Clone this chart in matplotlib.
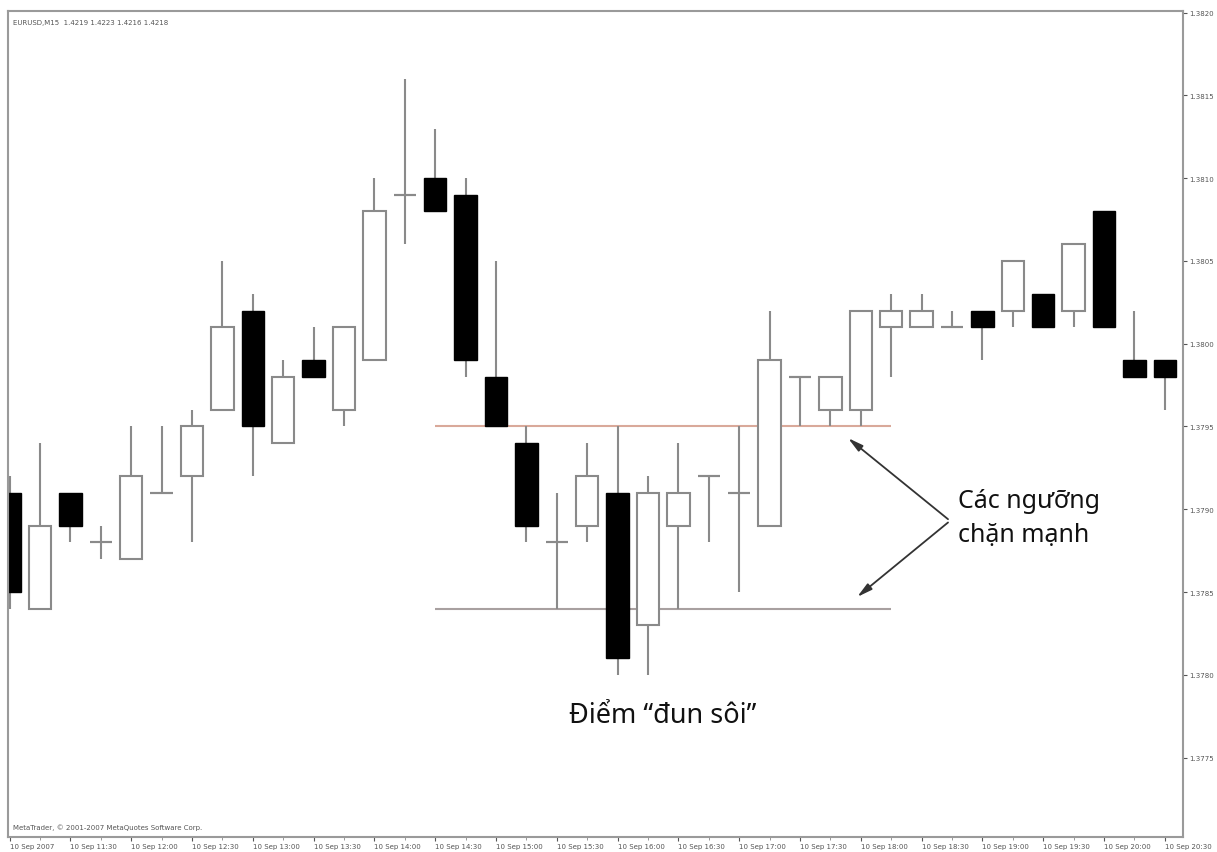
import numpy as np
import matplotlib
matplotlib.use("Agg")
import matplotlib.pyplot as plt

# EURUSD M15, 10 Sep 2007 (open, high, low, close)
opens = [1.3791, 1.3784, 1.3791, 1.3788, 1.3787, 1.3791, 1.3792, 1.3796, 1.3802, 1.3794,
         1.3799, 1.3796, 1.3799, 1.3809, 1.3810, 1.3809, 1.3798, 1.3794, 1.3788, 1.3789,
         1.3791, 1.3783, 1.3789, 1.3792, 1.3791, 1.3789, 1.3798, 1.3796, 1.3796, 1.3801,
         1.3801, 1.3801, 1.3802, 1.3802, 1.3803, 1.3802, 1.3808, 1.3799, 1.3799]
highs = [1.3792, 1.3794, 1.3791, 1.3789, 1.3795, 1.3795, 1.3796, 1.3805, 1.3803, 1.3799,
         1.3801, 1.3801, 1.3810, 1.3816, 1.3813, 1.3810, 1.3805, 1.3795, 1.3791, 1.3794,
         1.3795, 1.3792, 1.3794, 1.3792, 1.3795, 1.3802, 1.3798, 1.3798, 1.3802, 1.3803,
         1.3803, 1.3802, 1.3802, 1.3805, 1.3803, 1.3806, 1.3808, 1.3802, 1.3799]
lows = [1.3784, 1.3784, 1.3788, 1.3787, 1.3787, 1.3791, 1.3788, 1.3796, 1.3792, 1.3794,
        1.3798, 1.3795, 1.3799, 1.3806, 1.3808, 1.3798, 1.3795, 1.3788, 1.3784, 1.3788,
        1.3780, 1.3780, 1.3784, 1.3788, 1.3785, 1.3789, 1.3795, 1.3795, 1.3795, 1.3798,
        1.3801, 1.3801, 1.3799, 1.3801, 1.3801, 1.3801, 1.3801, 1.3798, 1.3796]
closes = [1.3785, 1.3789, 1.3789, 1.3788, 1.3792, 1.3791, 1.3795, 1.3801, 1.3795, 1.3798,
          1.3798, 1.3801, 1.3808, 1.3809, 1.3808, 1.3799, 1.3795, 1.3789, 1.3788, 1.3792,
          1.3781, 1.3791, 1.3791, 1.3792, 1.3791, 1.3799, 1.3798, 1.3798, 1.3802, 1.3802,
          1.3802, 1.3801, 1.3801, 1.3805, 1.3801, 1.3806, 1.3801, 1.3798, 1.3798]

time_labels = ["10 Sep 2007", "10 Sep 11:30", "10 Sep 12:00", "10 Sep 12:30", "10 Sep 13:00",
               "10 Sep 13:30", "10 Sep 14:00", "10 Sep 14:30", "10 Sep 15:00", "10 Sep 15:30",
               "10 Sep 16:00", "10 Sep 16:30", "10 Sep 17:00", "10 Sep 17:30", "10 Sep 18:00",
               "10 Sep 18:30", "10 Sep 19:00", "10 Sep 19:30", "10 Sep 20:00", "10 Sep 20:30"]
price_ticks = [1.3775, 1.3780, 1.3785, 1.3790, 1.3795, 1.3800, 1.3805, 1.3810, 1.3815, 1.3820]

resistance = 1.3795
support = 1.3784

o = np.array(opens)
h = np.array(highs)
l = np.array(lows)
c = np.array(closes)
x = np.arange(len(o))

edge = "#8a8a8a"
fig = plt.figure(figsize=(12.17, 8.53), dpi=100)
ax = fig.add_axes([8 / 1217, 15 / 853, 1175 / 1217, 826 / 853])

ax.vlines(x, l, h, color=edge, lw=1.5, zorder=1)
up = c >= o
body_w = 0.74
ax.bar(x[up], (c - o)[up], bottom=o[up], width=body_w, color="white",
       edgecolor=edge, linewidth=1.5, zorder=2)
ax.bar(x[~up], (o - c)[~up], bottom=c[~up], width=body_w, color="black",
       edgecolor="black", linewidth=1.0, zorder=2)
flat = c == o
ax.hlines(c[flat], x[flat] - body_w / 2, x[flat] + body_w / 2, color=edge, lw=1.5, zorder=3)

# levels
ax.hlines(resistance, 14.0, 29.0, color="#d9a99a", lw=1.5, zorder=0)
ax.hlines(support, 14.0, 29.0, color="#a8a0a0", lw=1.5, zorder=0)

ax.set_xlim(-0.053, 38.6)
ax.set_ylim(1.37702, 1.38201)

ax.yaxis.tick_right()
ax.set_yticks(price_ticks)
ax.set_yticklabels([f"{p:.4f}" for p in price_ticks])
ax.set_xticks(x[::2])
ax.set_xticklabels(time_labels, ha="left")
ax.set_xticks(x, minor=True)
ax.tick_params(axis="both", labelsize=5, colors="#555555", length=3, width=0.8, pad=1.5)
ax.tick_params(axis="x", which="minor", length=2, color="#888888")
for s in ax.spines.values():
    s.set_color("#9a9a9a")
    s.set_linewidth(1.5)

ax.text(0.004, 0.99, "EURUSD,M15  1.4219 1.4223 1.4216 1.4218", transform=ax.transAxes,
        fontsize=5, color="#555555", va="top", ha="left")
ax.text(0.004, 0.008, "MetaTrader, \u00a9 2001-2007 MetaQuotes Software Corp.", transform=ax.transAxes,
        fontsize=5, color="#555555", va="bottom", ha="left")

font = ["Noto Sans", "DejaVu Sans"]
ax.text(31.2, 1.37895, "Các ngưỡng\nchặn mạnh", fontsize=18, family=font,
        ha="left", va="center", linespacing=1.45, color="#111111")
ax.text(21.5, 1.37776, "Điểm \u201cđun sôi\u201d", fontsize=19.5, family=font,
        ha="center", va="center", color="#111111")

arrow = dict(arrowstyle="-|>,head_length=0.9,head_width=0.22", color="#333333", lw=1.3,
             shrinkA=0, shrinkB=0)
ax.annotate("", xy=(27.58, 1.37943), xytext=(30.87, 1.37894), arrowprops=arrow)
ax.annotate("", xy=(27.88, 1.37847), xytext=(30.87, 1.37892), arrowprops=arrow)

fig.savefig("out.png", dpi=100, facecolor="white")
